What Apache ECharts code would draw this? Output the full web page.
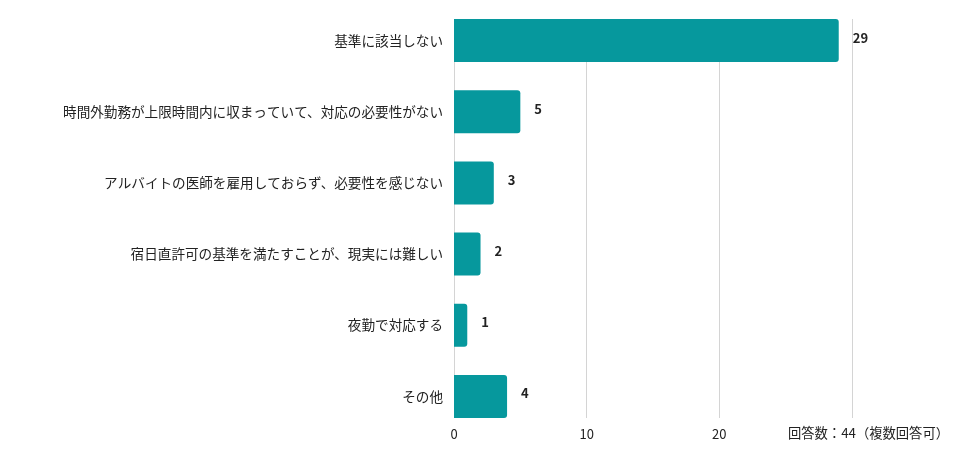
<!DOCTYPE html>
<html>
<head>
<meta charset="utf-8">
<script src="https://cdn.jsdelivr.net/npm/echarts@6/dist/echarts.min.js"></script>
<style>
  html, body { margin: 0; padding: 0; background: #fff; }
  #chart { width: 976px; height: 459px; }
</style>
</head>
<body>
<div id="chart"></div>
<script>
// 回答項目（上から順）
const categories = [
  '基準に該当しない',
  '時間外勤務が上限時間内に収まっていて、対応の必要性がない',
  'アルバイトの医師を雇用しておらず、必要性を感じない',
  '宿日直許可の基準を満たすことが、現実には難しい',
  '夜勤で対応する',
  'その他'
];
const counts = [29, 5, 3, 2, 1, 4];
const xTicks = [0, 10, 20, 30];
const note = '回答数：44（複数回答可）';

const FONT = '"Noto Sans CJK JP", "Noto Sans", sans-serif';
const BAR = '#06989d';

const chart = echarts.init(document.getElementById('chart'), null, { renderer: 'canvas' });

chart.setOption({
  animation: false,
  textStyle: { fontFamily: FONT },
  grid: [
    // バー用
    { left: 454, right: 124, top: 5, bottom: 27 },
    // 目盛り線・目盛りラベル用
    { left: 454, right: 124, top: 19, bottom: 41 }
  ],
  xAxis: [
    {
      gridIndex: 0, type: 'value', min: 0, max: 30, interval: 10,
      axisLine: { show: false }, axisTick: { show: false },
      axisLabel: { show: false }, splitLine: { show: false }
    },
    {
      gridIndex: 1, type: 'value', min: xTicks[0], max: xTicks[xTicks.length - 1], interval: 10,
      axisLine: { show: false }, axisTick: { show: false },
      axisLabel: {
        color: '#222', fontSize: 13, margin: 10, fontFamily: FONT,
        formatter: (v) => (v === 30 ? '' : String(v))
      },
      splitLine: { show: true, lineStyle: { color: '#d4d4d4', width: 1 } }
    }
  ],
  yAxis: [
    {
      gridIndex: 0, type: 'category', data: categories, inverse: true,
      axisLine: { show: false }, axisTick: { show: false },
      axisLabel: { color: '#222', fontSize: 13.6, margin: 11, fontFamily: FONT }
    },
    {
      gridIndex: 1, type: 'category', data: categories, inverse: true, show: false
    }
  ],
  series: [
    {
      type: 'bar',
      xAxisIndex: 0, yAxisIndex: 0,
      data: counts,
      barWidth: 43,
      itemStyle: { color: BAR, borderRadius: [0, 3, 3, 0] },
      label: {
        show: true, position: 'right', distance: 14, offset: [0, -3],
        color: '#222', fontSize: 13, fontWeight: 'bold', fontFamily: FONT
      }
    }
  ],
  graphic: [
    {
      type: 'text', right: 27, top: 426,
      style: { text: note, fill: '#222', font: '13.3px ' + FONT }
    }
  ]
});
</script>
</body>
</html>
